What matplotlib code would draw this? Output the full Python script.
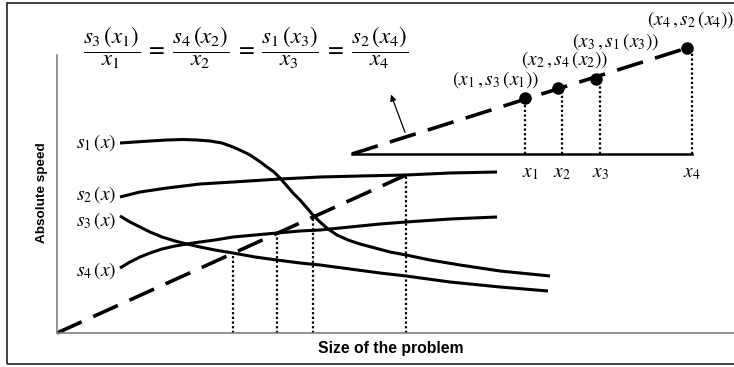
import matplotlib
matplotlib.use("Agg")
import matplotlib.pyplot as plt
from matplotlib.patches import Rectangle

plt.rcParams['mathtext.fontset'] = 'stix'

# speed curves, x = problem size, y = absolute speed (axis units)
s1_x = [63, 78, 93, 110, 126, 140, 153, 165, 176, 185, 193, 202, 210, 217, 223, 230, 236,
        243, 250, 256, 263, 271, 280, 291, 303, 318, 333, 349, 373, 403, 443, 493]
s1_y = [190, 191, 192, 193, 193.5, 193, 192, 190, 186, 182, 178, 172, 166, 161, 155, 147, 140,
        133, 125, 118, 111, 104, 98, 93, 89, 85, 81, 78, 73, 68, 62, 57]
s2_x = [63, 83, 110, 143, 176, 223, 263, 303, 349, 393, 440]
s2_y = [136, 141, 145, 149, 151, 154, 156, 157, 158, 160, 161]
s3_x = [63, 73, 83, 93, 105, 118, 130, 143, 158, 176, 198, 220, 243, 263, 293, 323, 349, 393, 443, 491]
s3_y = [117, 111, 106, 101, 96, 92, 89, 86, 83, 80, 76, 73, 70, 68, 64, 60, 57, 51, 46, 42]
s4_x = [63, 73, 83, 93, 105, 118, 130, 143, 158, 176, 198, 220, 243, 263, 293, 323, 349, 393, 440]
s4_y = [65, 71, 76, 80, 84, 87, 89, 91, 93, 96, 98, 100, 102, 103, 106, 109, 111, 114, 116]

# isoefficiency line and its crossings with the curves
iso_x = [0, 349]
iso_y = [0, 158]
cross_x = [176, 220, 256, 349]
cross_y = [80, 100, 117, 158]

# inset sketch
inset_base_x = [295, 635]
inset_base_y = 179
inset_iso_x = [295, 630]
inset_iso_y = [179, 285]
dot_x = [468, 501, 539, 630]
dot_y = [235, 245, 254, 285]
drop_x = [468, 505, 543, 635]
tick_labels = ['$x_1$', '$x_2$', '$x_3$', '$x_4$']
tick_label_x = [473, 505, 543, 635]
point_labels = ['$(x_1\\,,s_3\\,(x_1))$', '$(x_2\\,,s_4\\,(x_2))$',
                '$(x_3\\,,s_1\\,(x_3))$', '$(x_4\\,,s_2\\,(x_4))$']
point_label_x = [439, 508, 559, 634]
point_label_y = [253, 273, 291, 313]

curve_labels = ['$s_1\\,(x)$', '$s_2\\,(x)$', '$s_3\\,(x)$', '$s_4\\,(x)$']
curve_label_y = [190, 138, 112, 62]

formula = ('$\\dfrac{s_3\\,(x_1)}{x_1} \\;=\\; \\dfrac{s_4\\,(x_2)}{x_2} \\;=\\; '
           '\\dfrac{s_1\\,(x_3)}{x_3} \\;=\\; \\dfrac{s_2\\,(x_4)}{x_4}$')

W, H = 734, 367
fig = plt.figure(figsize=(W / 100, H / 100), dpi=100)
ax = fig.add_axes([57 / W, (H - 333) / H, (W - 57) / W, (333 - 55) / H])
ax.set_xlim(0, W - 57)
ax.set_ylim(0, 333 - 55)
ax.set_xticks([])
ax.set_yticks([])
for side in ['top', 'right']:
    ax.spines[side].set_visible(False)
for side in ['left', 'bottom']:
    ax.spines[side].set_color('#808080')
    ax.spines[side].set_linewidth(1.2)

# outer frame
fig.add_artist(Rectangle((7 / W, 3 / H), 740 / W, 361 / H, transform=fig.transFigure,
                         fill=False, edgecolor='#333333', linewidth=1.3))

curve_kw = dict(color='black', lw=2.2, solid_capstyle='butt', solid_joinstyle='round', clip_on=False)
for xs, ys in [(s1_x, s1_y), (s2_x, s2_y), (s3_x, s3_y), (s4_x, s4_y)]:
    ax.plot(xs, ys, **curve_kw)

dash = (0, (7.5, 3.5))
ax.plot(iso_x, iso_y, color='black', lw=2.6, linestyle=dash, dash_capstyle='butt', clip_on=False)
for cx, cy in zip(cross_x, cross_y):
    ax.plot([cx, cx], [0, cy], color='black', lw=1.6, linestyle=(0, (1, 1.1)), clip_on=False)

for lab, ly in zip(curve_labels, curve_label_y):
    ax.text(59, ly, lab, fontsize=14, ha='right', va='center', clip_on=False)

# inset
ax.plot(inset_base_x, [inset_base_y, inset_base_y], color='black', lw=1.8, clip_on=False)
ax.plot(inset_iso_x, inset_iso_y, color='black', lw=2.6, linestyle=dash, dash_capstyle='butt', clip_on=False)
ax.plot(dot_x, dot_y, 'o', color='black', ms=8, clip_on=False)
for dx_, px_, py_ in zip(drop_x, dot_x, dot_y):
    ax.plot([dx_, dx_], [inset_base_y, py_], color='black', lw=1.6, linestyle=(0, (1, 1.1)), clip_on=False)
for lab, lx in zip(tick_labels, tick_label_x):
    ax.text(lx, 160, lab, fontsize=14, ha='center', va='center', clip_on=False)
for lab, lx, ly in zip(point_labels, point_label_x, point_label_y):
    ax.text(lx, ly, lab, fontsize=14, ha='center', va='center', clip_on=False)

ax.annotate('', xy=(333, 241), xytext=(349, 198),
            arrowprops=dict(arrowstyle='-|>', color='black', lw=0.9, mutation_scale=9),
            annotation_clip=False)

ax.text(189, 285, formula, fontsize=16.5, ha='center', va='center', clip_on=False)

ax.text(-15, 140, 'Absolute speed', rotation=90, fontsize=9.7, fontweight='bold',
        family='Liberation Sans', ha='center', va='center', clip_on=False)
ax.text(334, -16, 'Size of the problem', fontsize=11.3, fontweight='bold',
        family='Liberation Sans', ha='center', va='center', clip_on=False)

fig.savefig('out.png', dpi=100)
